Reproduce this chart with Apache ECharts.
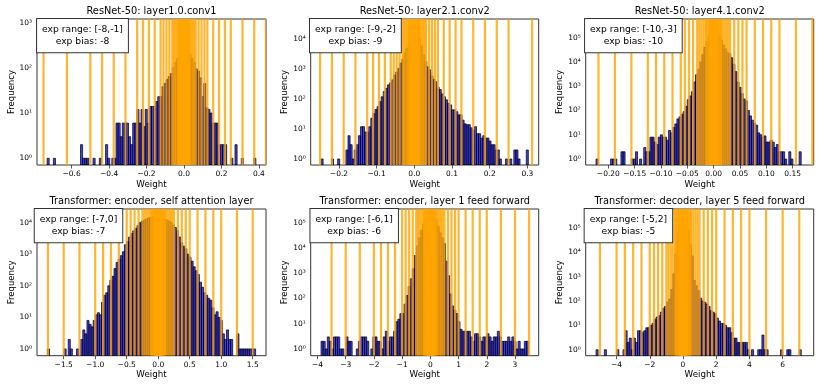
<!DOCTYPE html>
<html><head><meta charset="utf-8">
<script src="https://cdn.jsdelivr.net/npm/echarts@6/dist/echarts.min.js"></script>
<style>html,body{margin:0;padding:0;background:#fff}#c{width:822px;height:387px}</style>
</head><body><div id="c"></div>
<script>
// ---------- DATA ----------
// histogram counts, 100 bins per panel
const counts1 = [1,0,0,1,0,0,0,0,0,0, 0,0,0,0,0,0,2,1,1,1, 0,0,1,0,0,1,0,0,2,1, 0,1,1,6,6,3,6,6,6,3,
  2,6,6,12,6,12,5,12,6,14, 14,14,18,23,23,38,45,55,64,75, 100,130,160,200,240,300,280,240,200,160,
  130,95,85,60,23,45,13,12,10,6, 6,6,2,2,2,2,0,0,1,0, 2,0,0,1,0,0,0,0,0,1];
const counts2 = [1,0,0,0,0,1,0,0,1,0, 0,0,2,6,3,1,2,3,6,12, 12,8,8,12,23,33,45,56,83,120,
  180,230,300,350,440,640,800,1060,1600,2200, 3500,5000,8000,12000,18000,20000,17000,11000,6000,3000,
  1800,1200,950,600,450,380,250,210,150,120, 95,72,64,44,44,38,30,30,20,15,
  14,14,11,9,12,7,7,5,6,5, 5,4,3,3,2,2,1,0,0,1, 0,1,0,2,2,1,0,0,0,2];
const counts3 = [1,0,0,0,0,0,0,1,1,1, 0,0,2,2,0,0,0,1,1,2, 0,1,0,3,2,2,8,8,5,4,
  8,10,8,8,6,15,12,20,28,45, 55,70,90,150,280,400,600,1500,3000,5000,
  10000,20000,40000,70000,120000,180000,250000,250000,180000,120000,
  80000,50000,35000,25000,22000,15000,8000,4000,1500,900,
  500,300,250,100,60,40,30,25,12,10, 8,9,5,5,6,5,3,4,2,2, 2,1,0,2,1,0,0,0,2,0];
const counts4 = [1,0,0,0,0,0,0,0,1,0, 2,1,0,0,1,0,2,4,3,8, 6,5,8,12,14,12,30,50,60,100,
  150,200,350,550,700,900,1200,2000,2500,3500, 4500,5500,6500,8000,10000,11000,12000,13000,14000,14500,
  15000,15000,15000,15000,14500,14000,13000,12000,11000,10000, 8500,7000,5500,3500,2300,1800,1500,1000,800,600,
  400,300,230,130,90,60,50,40,35,20, 12,15,10,8,3,2,4,2,2,0, 0,3,1,1,1,1,1,1,1,1];
const counts5 = [2,2,1,3,2,1,3,3,3,1, 1,0,3,2,2,0,0,1,2,3, 3,3,2,0,1,3,3,2,2,1,
  3,5,2,3,3,5,12,15,25,25, 60,130,300,600,1500,5000,12000,25000,50000,90000,
  140000,190000,210000,200000,170000,120000,70000,40000,25000,15000,
  3000,800,150,50,35,25,12,6,5,5, 5,5,3,2,4,4,3,2,3,3, 4,3,2,3,3,5,3,2,2,2, 3,2,3,2,1,2,1,1,2,2];
const counts6 = [1,0,0,0,1,0,0,0,0,0, 1,0,0,1,6,2,3,1,3,2, 6,6,5,6,8,8,10,12,18,22,
  25,35,50,60,90,120,300,1300,8000,60000, 200000,350000,350000,200000,80000,20000,7000,700,420,265,
  130,100,88,75,60,40,35,30,20,15, 12,12,10,8,8,5,3,3,2,2, 2,2,2,1,0,1,0,0,1,1,
  4,1,1,0,0,0,0,0,0,1, 0,0,1,1,0,0,0,0,1,0];

// histogram bin start and bin width (weight units)
const binStart = [-0.731, -0.2475, -0.2233, -1.759, -3.873, -5.234];
const binWidth = [0.01115, 0.0055, 0.003935, 0.03305, 0.0735, 0.1248];

// quantization level magnitudes (orange lines are drawn at +level and -level)
const levels1 = [0.00390625,0.0048828125,0.005859375,0.0068359375,0.0078125,0.009765625,0.01171875,0.013671875,
  0.015625,0.01953125,0.0234375,0.02734375,0.03125,0.0390625,0.046875,0.0546875,0.0625,0.078125,0.09375,0.109375,
  0.125,0.15625,0.1875,0.21875,0.25,0.3125,0.375,0.4375,0.5,0.625,0.75,0.875];
const levels2 = [0.001953125,0.00244140625,0.0029296875,0.00341796875,0.00390625,0.0048828125,0.005859375,0.0068359375,
  0.0078125,0.009765625,0.01171875,0.013671875,0.015625,0.01953125,0.0234375,0.02734375,0.03125,0.0390625,0.046875,0.0546875,
  0.0625,0.078125,0.09375,0.109375,0.125,0.15625,0.1875,0.21875,0.25,0.3125,0.375,0.4375];
const levels3 = [0.0009765625,0.001220703125,0.00146484375,0.001708984375,0.001953125,0.00244140625,0.0029296875,0.00341796875,
  0.00390625,0.0048828125,0.005859375,0.0068359375,0.0078125,0.009765625,0.01171875,0.013671875,
  0.015625,0.01953125,0.0234375,0.02734375,0.03125,0.0390625,0.046875,0.0546875,0.0625,0.078125,0.09375,0.109375,
  0.125,0.15625,0.1875,0.21875];
const levels4 = [0.0078125,0.009765625,0.01171875,0.013671875,0.015625,0.01953125,0.0234375,0.02734375,
  0.03125,0.0390625,0.046875,0.0546875,0.0625,0.078125,0.09375,0.109375,0.125,0.15625,0.1875,0.21875,
  0.25,0.3125,0.375,0.4375,0.5,0.625,0.75,0.875,1,1.25,1.5,1.75];
const levels5 = [0.015625,0.01953125,0.0234375,0.02734375,0.03125,0.0390625,0.046875,0.0546875,
  0.0625,0.078125,0.09375,0.109375,0.125,0.15625,0.1875,0.21875,0.25,0.3125,0.375,0.4375,
  0.5,0.625,0.75,0.875,1,1.25,1.5,1.75,2,2.5,3,3.5];
const levels6 = [0.03125,0.0390625,0.046875,0.0546875,0.0625,0.078125,0.09375,0.109375,
  0.125,0.15625,0.1875,0.21875,0.25,0.3125,0.375,0.4375,0.5,0.625,0.75,0.875,
  1,1.25,1.5,1.75,2,2.5,3,3.5,4,5,6,7];

// tick labels
const xTicks1 = [-0.6,-0.4,-0.2,0,0.2,0.4];
const xTicks2 = [-0.2,-0.1,0,0.1,0.2,0.3];
const xTicks3 = [-0.2,-0.15,-0.1,-0.05,0,0.05,0.1,0.15];
const xTicks4 = [-1.5,-1,-0.5,0,0.5,1,1.5];
const xTicks5 = [-4,-3,-2,-1,0,1,2,3];
const xTicks6 = [-4,-2,0,2,4,6];
const yTicks3 = [1,10,100,1000];
const yTicks4 = [1,10,100,1000,10000];
const yTicks5 = [1,10,100,1000,10000,100000];

const titles = ['ResNet-50: layer1.0.conv1','ResNet-50: layer2.1.conv2','ResNet-50: layer4.1.conv2',
  'Transformer: encoder, self attention layer','Transformer: encoder, layer 1 feed forward','Transformer: decoder, layer 5 feed forward'];
const expRanges = ['exp range: [-8,-1]','exp range: [-9,-2]','exp range: [-10,-3]','exp range: [-7,0]','exp range: [-6,1]','exp range: [-5,2]'];
const expBiases = ['exp bias: -8','exp bias: -9','exp bias: -10','exp bias: -7','exp bias: -6','exp bias: -5'];

// ---------- LAYOUT ----------
const FONT = 'DejaVu Sans';
const panels = [
  {counts:counts1, levels:levels1, xTicks:xTicks1, dec:1, yTicks:yTicks3, xMin:-0.785, xMax:0.438, yMin:0.71, yMax:1203,
   grid:{left:37, top:19, width:229, height:146}, boxCx:82.5, titleY:11.5},
  {counts:counts2, levels:levels2, xTicks:xTicks2, dec:1, yTicks:yTicks4, xMin:-0.275, xMax:0.330, yMin:0.63, yMax:47800,
   grid:{left:310.7, top:19, width:228, height:146}, boxCx:355.4, titleY:11.5},
  {counts:counts3, levels:levels3, xTicks:xTicks3, dec:2, yTicks:yTicks5, xMin:-0.243, xMax:0.190, yMin:0.57, yMax:590000,
   grid:{left:585.7, top:19, width:228, height:146}, boxCx:633.4, titleY:11.5},
  {counts:counts4, levels:levels4, xTicks:xTicks4, dec:1, yTicks:yTicks4, xMin:-1.924, xMax:1.711, yMin:0.61, yMax:27100,
   grid:{left:37, top:209, width:229, height:146.7}, boxCx:78.5, titleY:201.5},
  {counts:counts5, levels:levels5, xTicks:xTicks5, dec:0, yTicks:yTicks5, xMin:-4.24, xMax:3.84, yMin:0.54, yMax:348000,
   grid:{left:310.7, top:209, width:228, height:146.7}, boxCx:354.2, titleY:201.5},
  {counts:counts6, levels:levels6, xTicks:xTicks6, dec:0, yTicks:yTicks5, xMin:-5.858, xMax:7.869, yMin:0.57, yMax:590000,
   grid:{left:585.7, top:209, width:228, height:146.7}, boxCx:628.4, titleY:201.5}
];

const sup = ['\u2070','\u00B9','\u00B2','\u00B3','\u2074','\u2075','\u2076'];
function fmtX(v, dec){ let s = (Math.abs(v) < 1e-12 ? 0 : v).toFixed(dec); return s.replace('-', '\u2212'); }
function fmtY(v){ const l = Math.log10(v); const e = Math.round(l); return Math.abs(l - e) < 1e-6 ? '10' + sup[e] : ''; }

const grids = [], xAxes = [], yAxes = [], series = [], graphics = [];
panels.forEach((p, k) => {
  grids.push({left:p.grid.left, top:p.grid.top, width:p.grid.width, height:p.grid.height, show:true,
    borderColor:'#333', borderWidth:1, backgroundColor:'transparent', containLabel:false, outerBoundsMode:'none'});
  xAxes.push({type:'value', gridIndex:k, min:p.xMin, max:p.xMax, name:'Weight', nameLocation:'middle', nameGap:15,
    nameMoveOverlap:false,
    nameTextStyle:{fontFamily:FONT, fontSize:8.7, color:'#000'},
    axisLine:{show:false}, splitLine:{show:false},
    axisTick:{show:true, length:3.5, customValues:p.xTicks, lineStyle:{color:'#333', width:0.8}},
    axisLabel:{customValues:p.xTicks, formatter:(v)=>fmtX(v, p.dec), fontFamily:FONT, fontSize:7.5, color:'#000', margin:5}});
  yAxes.push({type:'log', logBase:10, gridIndex:k, min:p.yMin, max:p.yMax, name:'Frequency', nameLocation:'middle', nameGap:21,
    nameMoveOverlap:false,
    nameTextStyle:{fontFamily:FONT, fontSize:8.5, color:'#000'},
    axisLine:{show:false}, splitLine:{show:false}, minorTick:{show:false},
    axisTick:{show:true, length:3.5, customValues:p.yTicks, lineStyle:{color:'#333', width:0.8}},
    axisLabel:{customValues:p.yTicks, formatter:fmtY, fontFamily:FONT, fontSize:7.5, color:'#000', margin:5}});

  const bars = [];
  p.counts.forEach((c, i) => { if (c > 0) bars.push([binStart[k] + i * binWidth[k], binStart[k] + (i + 1) * binWidth[k], c]); });
  series.push({type:'custom', xAxisIndex:k, yAxisIndex:k, clip:true, z:2, silent:true,
    encode:{x:[0,1], y:2}, data:bars,
    renderItem:(params, api) => {
      const cs = params.coordSys;
      const a = api.coord([api.value(0), api.value(2)]);
      const b = api.coord([api.value(1), api.value(2)]);
      const bottom = cs.y + cs.height;
      return {type:'rect', shape:{x:a[0], y:a[1], width:b[0]-a[0], height:bottom-a[1]},
        style:{fill:'rgba(0,0,235,0.75)', stroke:'rgba(0,0,0,0.8)', lineWidth:0.9}};
    }});

  const lines = [];
  p.levels.forEach(v => { lines.push([-v, 1]); lines.push([v, 1]); });
  series.push({type:'custom', xAxisIndex:k, yAxisIndex:k, clip:true, z:3, silent:true,
    encode:{x:0, y:1}, data:lines,
    renderItem:(params, api) => {
      const cs = params.coordSys;
      const x = api.coord([api.value(0), api.value(1)])[0];
      if (x < cs.x - 1 || x > cs.x + cs.width + 1) return null;
      return {type:'line', shape:{x1:x, y1:cs.y, x2:x, y2:cs.y + cs.height},
        style:{stroke:'rgba(255,165,0,0.82)', lineWidth:2.2}};
    }});

  graphics.push({type:'text', x:p.grid.left + p.grid.width / 2, y:p.titleY, z:100, silent:true,
    style:{text:titles[k], fontFamily:FONT, fontSize:9.8, fill:'#000', align:'center', verticalAlign:'middle'}});
  graphics.push({type:'text', x:p.boxCx, y:p.grid.top, z:100, silent:true,
    style:{text:expRanges[k] + '\n' + expBiases[k], fontFamily:FONT, fontSize:9.2, lineHeight:11.6, fill:'#000',
      align:'center', verticalAlign:'top', backgroundColor:'#fff', borderColor:'#333', borderWidth:1, padding:[5,5,5,5]}});
});

const chart = echarts.init(document.getElementById('c'), null, {renderer:'canvas'});
chart.setOption({animation:false, backgroundColor:'#fff', grid:grids, xAxis:xAxes, yAxis:yAxes, series:series,
  graphic:{elements:graphics}});
</script></body></html>
